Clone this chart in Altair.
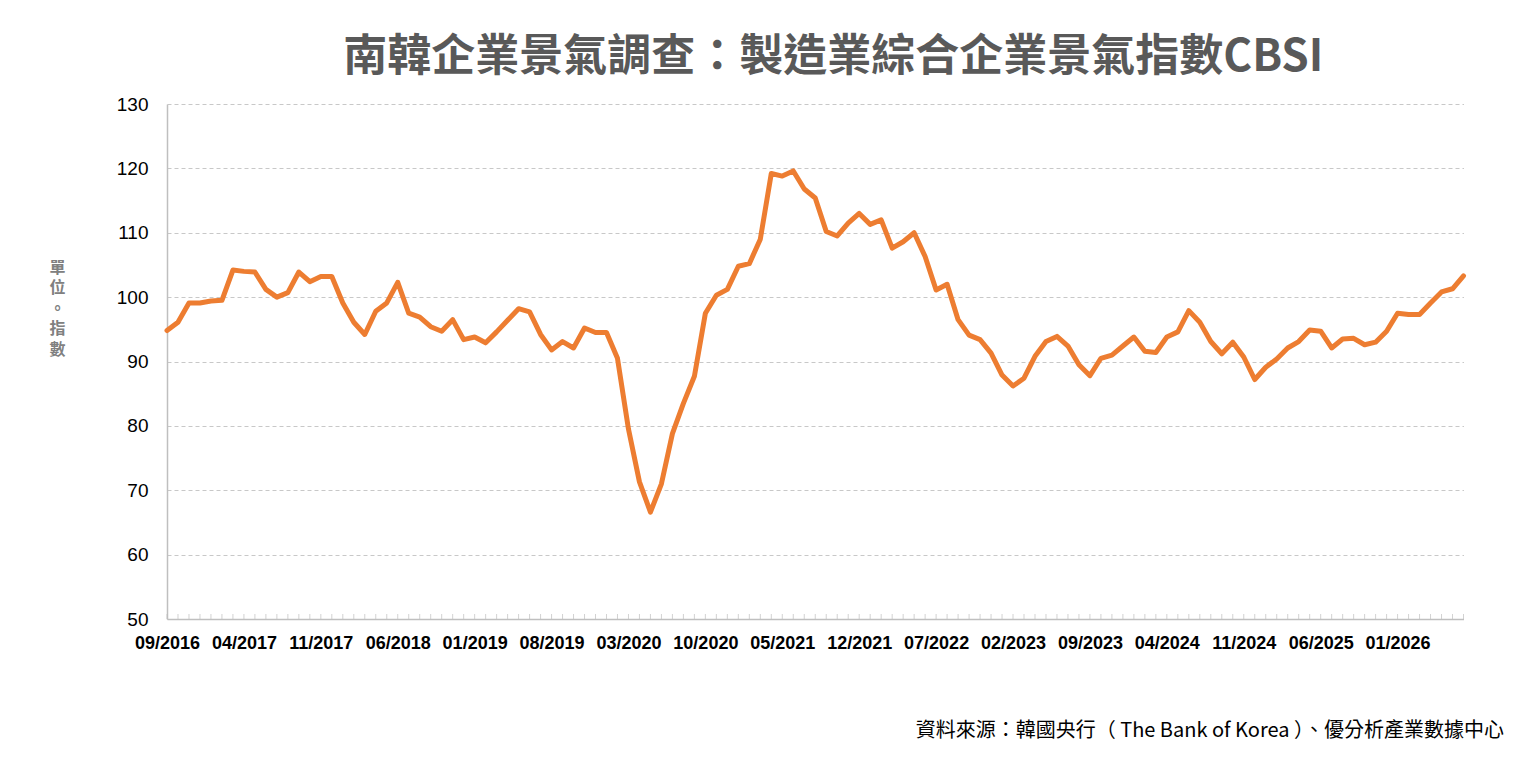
import altair as alt
import pandas as pd

# ---- data ----
start_year, start_month = 2016, 9
n_points = 119
months = []
y, m = start_year, start_month
for _ in range(n_points):
    months.append(f"{m:02d}/{y}")
    m += 1
    if m > 12:
        m = 1
        y += 1

cbsi = [
    94.8, 96.1, 99.1, 99.1, 99.4, 99.5, 104.2, 104.0, 103.9, 101.2,
    100.0, 100.7, 103.9, 102.4, 103.2, 103.2, 99.1, 96.1, 94.2, 97.8,
    99.1, 102.3, 97.5, 96.9, 95.4, 94.7, 96.5, 93.4, 93.8, 92.9,
    94.6, 96.4, 98.2, 97.7, 94.2, 91.8, 93.1, 92.1, 95.2, 94.5,
    94.5, 90.5, 79.5, 71.3, 66.6, 71.0, 78.8, 83.5, 87.7, 97.5,
    100.3, 101.2, 104.8, 105.2, 109.0, 119.2, 118.8, 119.6, 116.8, 115.4,
    110.2, 109.5, 111.5, 113.0, 111.3, 112.0, 107.6, 108.6, 110.0, 106.3,
    101.1, 102.0, 96.5, 94.1, 93.4, 91.3, 87.9, 86.2, 87.4, 90.8,
    93.1, 93.9, 92.4, 89.5, 87.8, 90.5, 91.0, 92.4, 93.8, 91.6,
    91.4, 93.8, 94.6, 97.9, 96.1, 93.1, 91.2, 93.0, 90.7, 87.2,
    89.1, 90.4, 92.1, 93.1, 94.9, 94.7, 92.1, 93.5, 93.6, 92.6,
    93.0, 94.7, 97.5, 97.3, 97.3, 99.1, 100.8, 101.3, 103.3,
]

tick_labels = ["09/2016", "04/2017", "11/2017", "06/2018", "01/2019", "08/2019",
               "03/2020", "10/2020", "05/2021", "12/2021", "07/2022", "02/2023",
               "09/2023", "04/2024", "11/2024", "06/2025", "01/2026"]
y_ticks = [50, 60, 70, 80, 90, 100, 110, 120, 130]

title_text = "南韓企業景氣調查：製造業綜合企業景氣指數CBSI"
y_title = ["單", "位", "。", "指", "數"]
source_text = "資料來源：韓國央行（ The Bank of Korea ）、優分析產業數據中心"

df = pd.DataFrame({"month": months, "value": cbsi})

label_list = "[" + ",".join(f"'{t}'" for t in tick_labels) + "]"

x_enc = alt.X(
    "month:O",
    sort=months,
    scale=alt.Scale(type="point", padding=0),
    axis=alt.Axis(
        title=source_text,
        titleX=1336.5,
        titleY=111,
        titleAlign="right",
        titleBaseline="middle",
        titleFont="Noto Sans CJK TC",
        titleFontSize=20,
        titleFontWeight="normal",
        titleColor="#000000",
        labelExpr=f"indexof({label_list}, datum.value) >= 0 ? datum.value : ''",
        labelAngle=0,
        labelAlign="center",
        labelFont="Liberation Sans",
        labelFontWeight="bold",
        labelFontSize=18,
        labelColor="#000000",
        labelPadding=24,
        labelOverlap=False,
        ticks=False,
        domainColor="#bfbfbf",
        domainWidth=1.5,
        grid=False,
    ),
)

y_enc = alt.Y(
    "value:Q",
    scale=alt.Scale(domain=[50, 130], nice=False, zero=False),
    axis=alt.Axis(
        values=y_ticks,
        title=y_title,
        titleAngle=0,
        titleX=-110,
        titleY=163,
        titleAlign="center",
        titleBaseline="middle",
        titleFont="Noto Sans CJK TC",
        titleFontSize=16,
        titleFontWeight="bold",
        titleColor="#808080",
        titleLineHeight=20.5,
        labelFont="Liberation Sans",
        labelFontSize=19,
        labelColor="#000000",
        labelPadding=19,
        ticks=False,
        domainColor="#bfbfbf",
        domainWidth=1.5,
        grid=True,
        gridDash=[4, 3],
        gridColor="#c8c8c8",
        gridWidth=1,
    ),
)

line = alt.Chart(df).mark_line(
    color="#ED7D31", strokeWidth=5, strokeJoin="round", strokeCap="round"
).encode(x=x_enc, y=y_enc)

minor_ticks = alt.Chart(df).mark_tick(
    orient="vertical", color="#bfbfbf", thickness=1, size=5, yOffset=-2.5
).encode(x=alt.X("month:O", sort=months), y=alt.datum(50))

chart = alt.layer(minor_ticks, line).properties(
    width=1296.5,
    height=515,
    title=alt.TitleParams(
        text=title_text,
        font="Noto Sans CJK TC",
        fontSize=44,
        fontWeight="bold",
        color="#595959",
        anchor="middle",
        dx=18,
        offset=15,
    ),
    padding={"left": 40, "top": 28, "right": 5, "bottom": 5},
).configure_view(stroke=None)

chart.save("out.html", embed_options={"renderer": "svg", "actions": False})
